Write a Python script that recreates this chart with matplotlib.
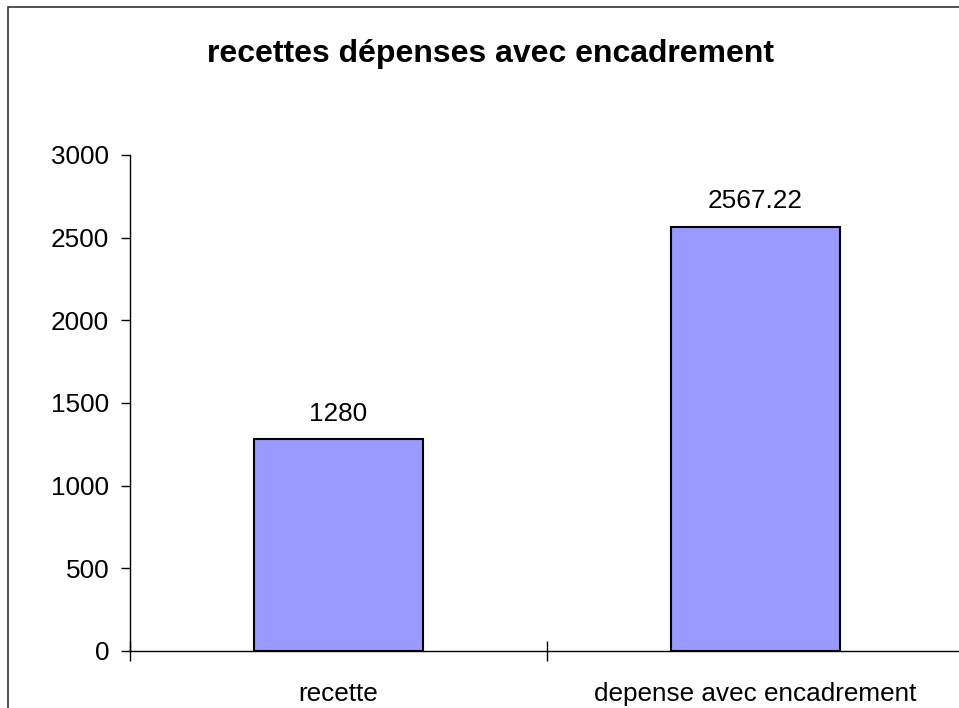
import matplotlib
matplotlib.use("Agg")
import matplotlib.pyplot as plt
from matplotlib.patches import Rectangle

categories = ["recette", "depense avec encadrement"]
values = [1280, 2567.22]
value_labels = ["1280", "2567.22"]
yticks = [0, 500, 1000, 1500, 2000, 2500, 3000]
title = "recettes dépenses avec encadrement"

plt.rcParams['font.family'] = ['Liberation Sans', 'DejaVu Sans']

W, H = 959, 708
fig = plt.figure(figsize=(W / 100, H / 100), dpi=100)
fig.patch.set_facecolor("white")

# outer chart frame
fig.patches.append(Rectangle((8 / W, 0 - 0.1), 1.2, (H - 7) / H + 0.1, transform=fig.transFigure,
                             fill=False, edgecolor="#333333", linewidth=1.2, clip_on=False))

ax = fig.add_axes([130 / W, 57 / H, 834 / W, 496 / H])
x = list(range(len(categories)))
ax.bar(x, values, width=0.403, color="#9999FF", edgecolor="black", linewidth=1.5, zorder=3)
ax.set_xlim(-0.5, 1.5)
ax.set_ylim(0, 3000)
ax.set_yticks(yticks)
ax.set_yticklabels([str(t) for t in yticks], fontsize=18.8)
ax.tick_params(axis="y", direction="out", length=6.5, width=1, pad=8.5)

ax.set_xticks([-0.5, 0.5, 1.5])
ax.set_xticklabels(["", "", ""])
ax.tick_params(axis="x", which="major", direction="inout", length=14, width=1)
ax.set_xticks(x, minor=True)
ax.set_xticklabels(categories, minor=True, fontsize=18.8)
ax.tick_params(axis="x", which="minor", length=0, pad=22)

for s in ["top", "right"]:
    ax.spines[s].set_visible(False)
for s in ["left", "bottom"]:
    ax.spines[s].set_linewidth(1)
    ax.spines[s].set_color("black")

for xi, v, lab in zip(x, values, value_labels):
    ax.annotate(lab, (xi, v), xytext=(0, 13), textcoords="offset points",
                ha="center", va="baseline", fontsize=18.8)

fig.text(490 / W, 1 - 54 / H, title, ha="center", va="center", fontsize=23, fontweight="bold")

fig.savefig("out.png", dpi=100, facecolor="white")
